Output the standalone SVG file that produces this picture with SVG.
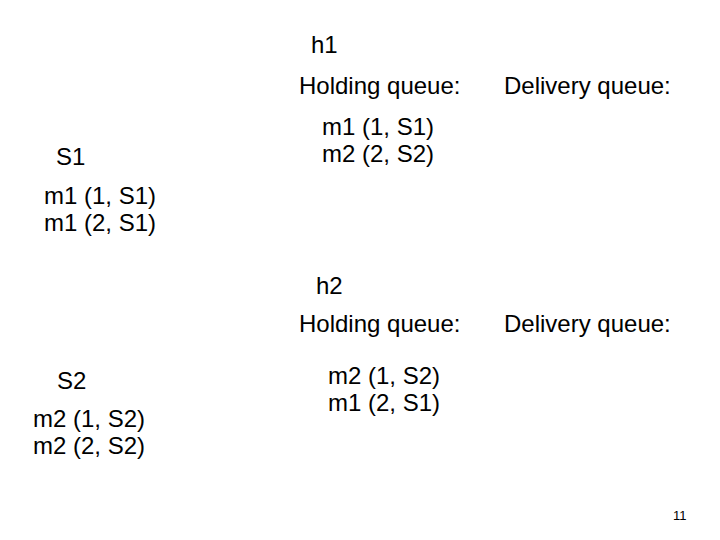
<svg xmlns="http://www.w3.org/2000/svg" width="720" height="540" viewBox="0 0 720 540">
<style>
text{font-family:"Liberation Sans",Arial,sans-serif;font-size:24px;fill:#000}
.pg{font-size:13px}
</style>
<rect width="720" height="540" fill="#fff"/>
<g id="h1">
<text x="311" y="53">h1</text>
<text x="299" y="94">Holding queue:</text>
<text x="504" y="94">Delivery queue:</text>
<text x="322" y="135">m1 (1, S1)</text>
<text x="322" y="162">m2 (2, S2)</text>
</g>
<g id="S1">
<text x="56" y="165">S1</text>
<text x="44" y="204">m1 (1, S1)</text>
<text x="44" y="231">m1 (2, S1)</text>
</g>
<g id="h2">
<text x="316" y="294">h2</text>
<text x="299" y="332">Holding queue:</text>
<text x="504" y="332">Delivery queue:</text>
<text x="328" y="384">m2 (1, S2)</text>
<text x="328" y="411">m1 (2, S1)</text>
</g>
<g id="S2">
<text x="57" y="389">S2</text>
<text x="33" y="427">m2 (1, S2)</text>
<text x="33" y="454">m2 (2, S2)</text>
</g>
<g id="connectors"></g>
<text class="pg" x="673" y="520">11</text>
</svg>
